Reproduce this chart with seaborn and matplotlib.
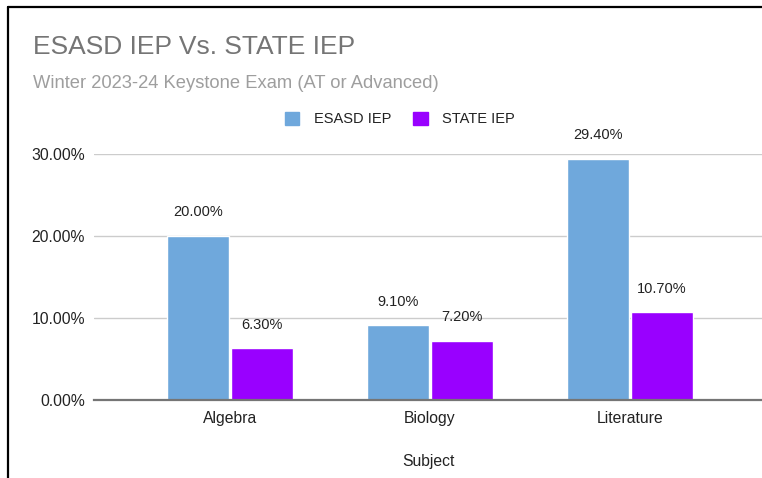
import matplotlib
matplotlib.use("Agg")
import matplotlib.pyplot as plt
from matplotlib.lines import Line2D
from matplotlib.patches import Patch
import seaborn as sns
import pandas as pd

subjects = ["Algebra", "Biology", "Literature"]
esasd_iep = [20.0, 9.1, 29.4]
state_iep = [6.3, 7.2, 10.7]
series_names = ["ESASD IEP", "STATE IEP"]
colors = ["#6fa8dc", "#9900ff"]
y_ticks = [0, 10, 20, 30]

df = pd.DataFrame({
    "Subject": subjects * 2,
    "Value": esasd_iep + state_iep,
    "Series": [series_names[0]] * 3 + [series_names[1]] * 3,
})

sns.set_theme(style="white")
plt.rcParams["font.family"] = ["Liberation Sans", "DejaVu Sans"]

W, H = 762, 478
fig = plt.figure(figsize=(W / 100, H / 100), dpi=100)
fig.patch.set_facecolor("white")

left, right, bottom_px, top_px = 94, 762, 400, 154
ax = fig.add_axes([left / W, (H - bottom_px) / H, (right - left) / W, (bottom_px - top_px) / H])

sns.barplot(data=df, x="Subject", y="Value", hue="Series", palette=colors,
            width=0.64, gap=0.03, ax=ax, legend=False, saturation=1)

ax.set_xlim(-0.68, 2.66)
ax.set_ylim(0, 30)
ax.set_yticks(y_ticks)
ax.set_yticklabels([f"{v:.2f}%" for v in y_ticks], fontsize=11.3, color="#222222")
ax.tick_params(axis="x", labelsize=11.3, colors="#222222", length=0, pad=8)
ax.tick_params(axis="y", length=0, pad=6.5)
ax.set_xlabel("Subject", fontsize=11.3, color="#222222", labelpad=20)
ax.set_ylabel("")
for s in ["top", "right", "left"]:
    ax.spines[s].set_visible(False)
ax.spines["bottom"].set_color("#757575")
ax.spines["bottom"].set_linewidth(1.6)
ax.spines["bottom"].set_zorder(5)
for v in y_ticks[1:]:
    ax.axhline(v, color="#cccccc", lw=1, zorder=0)
ax.set_axisbelow(True)

for cont in ax.containers:
    ax.bar_label(cont, labels=[f"{b.get_height():.2f}%" for b in cont],
                 padding=12, fontsize=10.5, color="#222222")

fig.text(33 / W, 1 - 47 / H, "ESASD IEP Vs. STATE IEP", fontsize=19,
         color="#757575", va="center", ha="left")
fig.text(33 / W, 1 - 84 / H, "Winter 2023-24 Keystone Exam (AT or Advanced)",
         fontsize=13.2, color="#9e9e9e", va="center", ha="left")

handles = [Patch(facecolor=c, edgecolor=c) for c in colors]
fig.legend(handles, series_names, loc="center", bbox_to_anchor=(400 / W, 1 - 119 / H),
           ncol=2, frameon=False, fontsize=10.5, handlelength=1.0, handleheight=1.0,
           handletextpad=1.0, columnspacing=1.5, labelcolor="#222222")

fig.add_artist(Line2D([8 / W, 1], [1 - 7 / H, 1 - 7 / H], color="black", lw=1.6))
fig.add_artist(Line2D([8 / W, 8 / W], [0, 1 - 7 / H], color="black", lw=1.6))

fig.savefig("out.png", dpi=100)
